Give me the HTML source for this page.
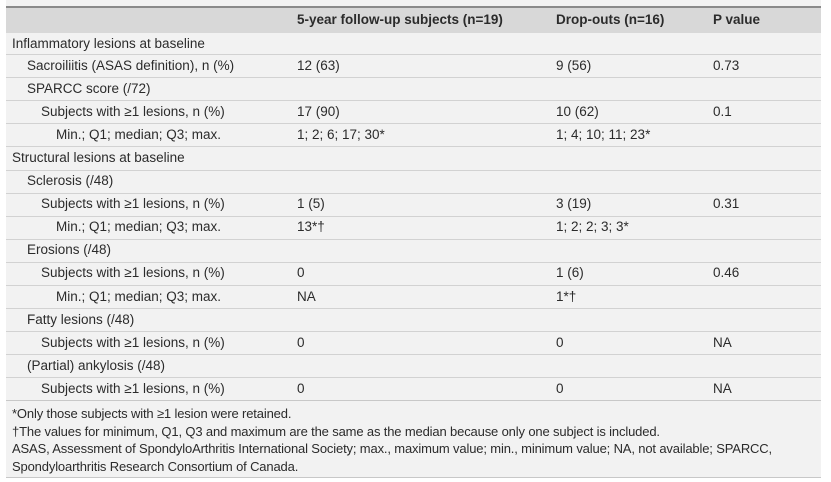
<!DOCTYPE html>
<html><head><meta charset="utf-8"><style>
body{margin:0;background:#fff;width:831px;height:482px;overflow:hidden;font-family:"Liberation Sans",sans-serif;color:#2b2b2b}
#t{position:absolute;left:6px;top:0;width:815px;height:478px;background:#f2f2f2}
#hdr{position:absolute;left:6px;top:6px;width:815px;height:27px;background:#d8d8d8;border-top:2px solid #8a8a8a;box-sizing:border-box}
.c{position:absolute;font-size:13.5px;white-space:nowrap;line-height:16px}
.h{font-weight:bold;font-size:13.5px}
.sep{position:absolute;left:6px;width:815px;height:1px;background:#d2d2d2}
.fn{position:absolute;left:12px;font-size:13px;white-space:nowrap;letter-spacing:-0.15px;line-height:15px}
</style></head><body>
<div id="t"></div>
<div id="hdr"></div>
<div class="c h" style="left:297px;top:12px">5-year follow-up subjects (n=19)</div>
<div class="c h" style="left:556px;top:12px">Drop-outs (n=16)</div>
<div class="c h" style="left:713px;top:12px">P value</div>
<div id="rows"></div>
<div class="sep" style="top:400px;background:#c8c8c8"></div>
<div class="fn" style="top:406px">*Only those subjects with ≥1 lesion were retained.</div>
<div class="fn" style="top:424px">†The values for minimum, Q1, Q3 and maximum are the same as the median because only one subject is included.</div>
<div class="fn" style="top:441px">ASAS, Assessment of SpondyloArthritis International Society; max., maximum value; min., minimum value; NA, not available; SPARCC,</div>
<div class="fn" style="top:459px">Spondyloarthritis Research Consortium of Canada.</div>
<div class="sep" style="top:477px;background:#c8c8c8"></div>
<script>
const labels=["Inflammatory lesions at baseline","Sacroiliitis (ASAS definition), n (%)","SPARCC score (/72)","Subjects with ≥1 lesions, n (%)","Min.; Q1; median; Q3; max.","Structural lesions at baseline","Sclerosis (/48)","Subjects with ≥1 lesions, n (%)","Min.; Q1; median; Q3; max.","Erosions (/48)","Subjects with ≥1 lesions, n (%)","Min.; Q1; median; Q3; max.","Fatty lesions (/48)","Subjects with ≥1 lesions, n (%)","(Partial) ankylosis (/48)","Subjects with ≥1 lesions, n (%)"];
const levels=[0,1,1,2,3,0,1,2,3,1,2,3,1,2,1,2];
const followup=["","12 (63)","","17 (90)","1; 2; 6; 17; 30*","","","1 (5)","13*†","","0","NA","","0","","0"];
const dropouts=["","9 (56)","","10 (62)","1; 4; 10; 11; 23*","","","3 (19)","1; 2; 2; 3; 3*","","1 (6)","1*†","","0","","0"];
const pvals=["","0.73","","0.1","","","","0.31","","","0.46","","","NA","","NA"];
const indent=[12,27,41,56];
const R=document.getElementById('rows');
labels.forEach((l,i)=>{
  const top= i===0?33:54+(i-1)*23.1;
  const h= i===0?21:23.1;
  const ty=top+h/2-8;
  const add=(txt,x,name)=>{const d=document.createElement('div');d.className='c';d.style.left=x+'px';d.style.top=ty+'px';d.textContent=txt;


R.appendChild(d);};
  add(l,indent[levels[i]],'row-label-'+i);
  if(followup[i])add(followup[i],297,'followup-value-'+i);
  if(dropouts[i])add(dropouts[i],556,'dropout-value-'+i);
  if(pvals[i])add(pvals[i],713,'p-value-'+i);
  if(i<labels.length-1){const s=document.createElement('div');s.className='sep';s.style.top=(top+h)+'px';


R.appendChild(s);}
});
</script>
</body></html>
